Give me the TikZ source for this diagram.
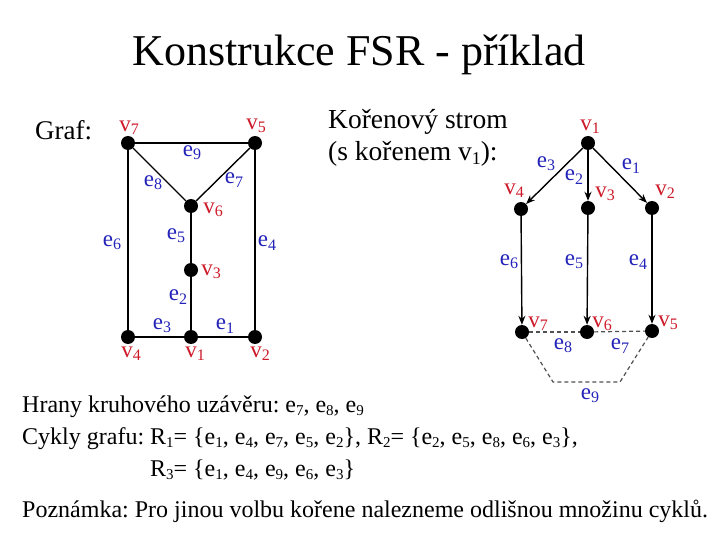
\documentclass[tikz,border=0pt]{standalone}
\usepackage{fontspec}
\setmainfont{Liberation Serif}
\usetikzlibrary{arrows.meta}
\definecolor{vred}{RGB}{205,25,40}
\definecolor{eblue}{RGB}{35,35,185}
\definecolor{dgray}{RGB}{80,80,80}
\frenchspacing
\newcommand\sbs[2][15]{\raisebox{-0.3ex}{\fontsize{#1}{#1}\selectfont #2}}
\newcommand\lsb[1]{\sbs[16]{#1}}
\tikzset{
  dot/.style={circle,fill=black,inner sep=0pt,minimum size=14pt},
  vl/.style={text=vred,font=\fontsize{23}{23}\selectfont,inner sep=0pt},
  el/.style={text=eblue,font=\fontsize{23}{23}\selectfont,inner sep=0pt},
  tx/.style={anchor=base west,inner sep=0pt,font=\fontsize{24}{24}\selectfont},
  edge/.style={line width=1.4pt},
  tarr/.style={line width=1.4pt,-{Stealth[length=9pt,width=7pt]}},
  dsh/.style={draw=dgray,line width=1.2pt,dash pattern=on 4pt off 3pt}
}
\begin{document}
\begin{tikzpicture}[x=1pt,y=-1pt]
\useasboundingbox (0,0) rectangle (720,540);
% title
\node[anchor=base,inner sep=0pt,font=\fontsize{44}{44}\selectfont] (title) at (359,66) {Konstrukce FSR - příklad};
\node[anchor=base west,inner sep=0pt,font=\fontsize{27}{27}\selectfont] (graf) at (35,140) {Graf:};
% left graph
\node[dot] (a7) at (128,143) {};
\node[dot] (a5) at (255,143) {};
\node[dot] (a6) at (191,206) {};
\node[dot] (a3) at (191,270) {};
\node[dot] (a4) at (128,337) {};
\node[dot] (a1) at (191,337) {};
\node[dot] (a2) at (255,337) {};
\draw[edge] (a7) -- (a5);
\draw[edge] (a7) -- (a4);
\draw[edge] (a5) -- (a2);
\draw[edge] (a7) -- (a6);
\draw[edge] (a5) -- (a6);
\draw[edge] (a6) -- (a3);
\draw[edge] (a3) -- (a1);
\draw[edge] (a4) -- (a1);
\draw[edge] (a1) -- (a2);
\node[vl] (la7) at (129,128) {v\lsb{7}};
\node[vl] (la5) at (256,126) {v\lsb{5}};
\node[vl] (la6) at (213,210) {v\lsb{6}};
\node[vl] (la3) at (211,272) {v\lsb{3}};
\node[vl] (la4) at (131,354) {v\lsb{4}};
\node[vl] (la1) at (195,354) {v\lsb{1}};
\node[vl] (la2) at (260,354) {v\lsb{2}};
\node[el] (le9) at (192,153) {e\lsb{9}};
\node[el] (le8) at (153,183) {e\lsb{8}};
\node[el] (le7) at (234,180) {e\lsb{7}};
\node[el] (le5) at (176,236) {e\lsb{5}};
\node[el] (le6) at (112,243) {e\lsb{6}};
\node[el] (le4) at (267,243) {e\lsb{4}};
\node[el] (le2) at (178,297) {e\lsb{2}};
\node[el] (le3) at (162,326) {e\lsb{3}};
\node[el] (le1) at (225,326) {e\lsb{1}};
% root text
\node[tx,font=\fontsize{27.5}{27.5}\selectfont] (k1) at (328,129) {Kořenový strom};
\node[tx,font=\fontsize{27.5}{27.5}\selectfont] (k2) at (328,161) {(s kořenem v\sbs[18]{1}):};
% tree
\node[dot] (b1) at (588,143) {};
\node[dot] (b4) at (521,209) {};
\node[dot] (b3) at (588,208) {};
\node[dot] (b2) at (652,208) {};
\node[dot] (b7) at (522,332) {};
\node[dot] (b6) at (587,332) {};
\node[dot] (b5) at (652,331) {};
\coordinate (c1) at (553,382);
\coordinate (c2) at (620,382);
\draw[tarr] (b1) -- (b4);
\draw[tarr] (b1) -- (b3);
\draw[tarr] (b1) -- (b2);
\draw[tarr] (b4) -- (b7);
\draw[tarr] (b3) -- (b6);
\draw[tarr] (b2) -- (b5);
\draw[dsh] (b7) -- (b6);
\draw[dsh] (b6) -- (b5);
\draw[dsh] (b7) -- (c1) -- (c2) -- (b5);
\node[vl] (lb1) at (590,127) {v\lsb{1}};
\node[vl] (lb4) at (514,191) {v\lsb{4}};
\node[vl] (lb3) at (605,194) {v\lsb{3}};
\node[vl] (lb2) at (665,192) {v\lsb{2}};
\node[vl] (lb7) at (538,324) {v\lsb{7}};
\node[vl] (lb6) at (602,324) {v\lsb{6}};
\node[vl] (lb5) at (668,323) {v\lsb{5}};
\node[el] (lf3) at (546,164) {e\lsb{3}};
\node[el] (lf2) at (574,177) {e\lsb{2}};
\node[el] (lf1) at (631,166) {e\lsb{1}};
\node[el] (lf6) at (509,262) {e\lsb{6}};
\node[el] (lf5) at (574,262) {e\lsb{5}};
\node[el] (lf4) at (638,262) {e\lsb{4}};
\node[el] (lf8) at (563,346) {e\lsb{8}};
\node[el] (lf7) at (620,346) {e\lsb{7}};
\node[el] (lf9) at (590,396) {e\lsb{9}};
% bottom text
\node[tx] (t1) at (22,412) {Hrany kruhového uzávěru: e\sbs{7}, e\sbs{8}, e\sbs{9}};
\node[tx] (t2) at (22,444) {Cykly grafu: R\sbs{1}= \{e\sbs{1}, e\sbs{4}, e\sbs{7}, e\sbs{5}, e\sbs{2}\}, R\sbs{2}= \{e\sbs{2}, e\sbs{5}, e\sbs{8}, e\sbs{6}, e\sbs{3}\},};
\node[tx] (t3) at (150,476) {R\sbs{3}= \{e\sbs{1}, e\sbs{4}, e\sbs{9}, e\sbs{6}, e\sbs{3}\}};
\node[tx] (t4) at (22,517) {Poznámka: Pro jinou volbu kořene nalezneme odlišnou množinu cyklů.};
\end{tikzpicture}
\end{document}
